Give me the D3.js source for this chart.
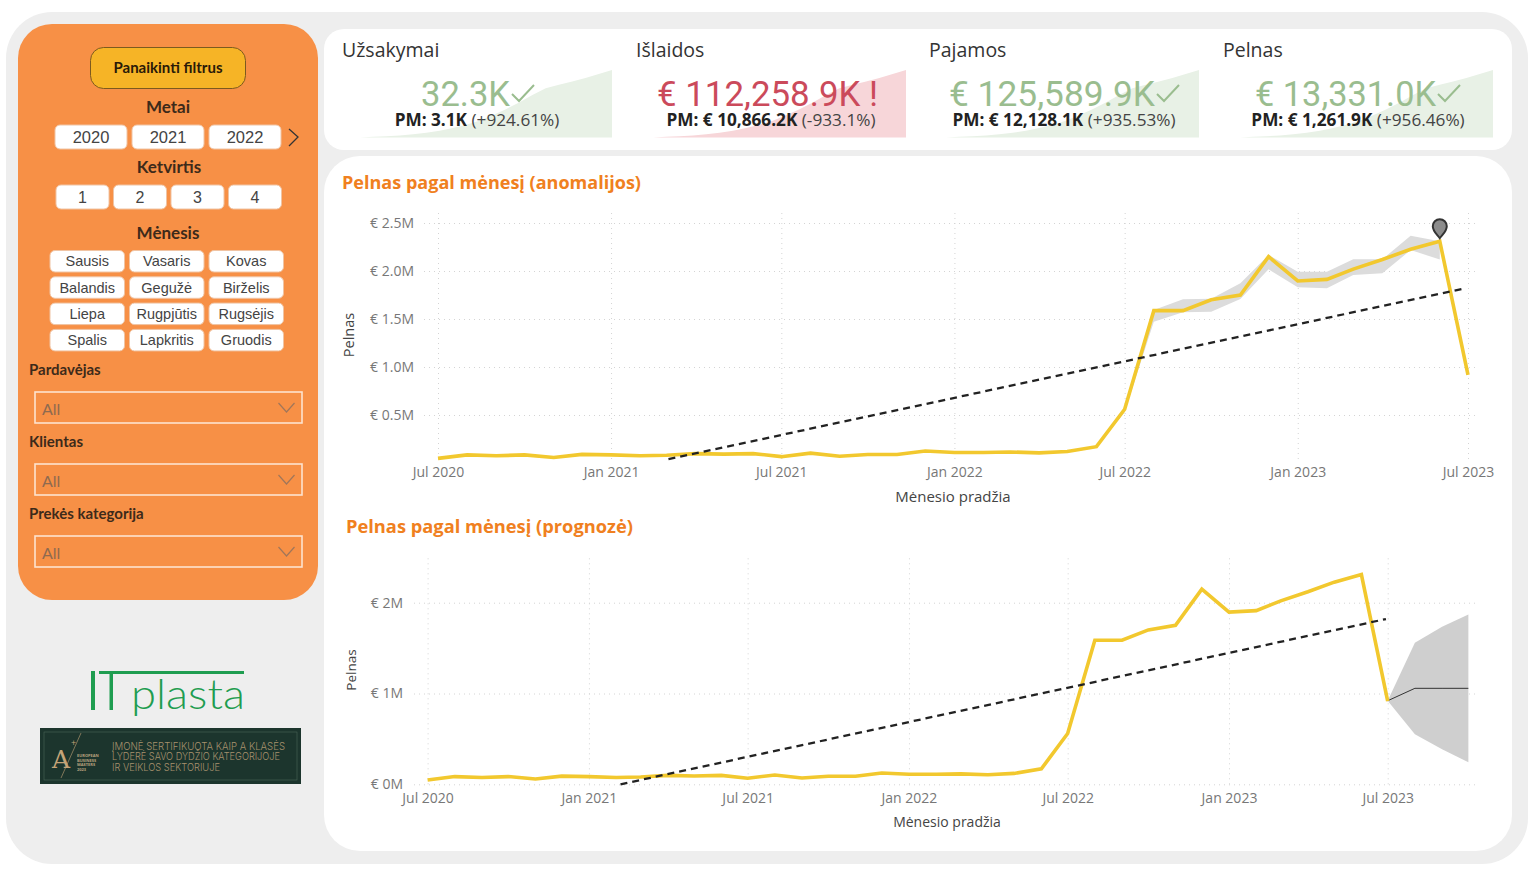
<!DOCTYPE html>
<html>
<head>
<meta charset="utf-8">
<script src="https://cdn.jsdelivr.net/npm/d3@7"></script>
<style>
  body { margin: 0; background: #fff; }
  text { font-family: "Open Sans", sans-serif; }
  .grid line { stroke: #d4d4d4; stroke-dasharray: 1 4; }
  .grid .domain { display: none; }
  .axis .domain, .axis line { display: none; }
  .axis text { font-family: "Open Sans", sans-serif; font-size: 14px; fill: #777; }
</style>
</head>
<body>
<div id="chart"></div>
<script>
// monthly profit, M EUR, Jul 2020 .. Jul 2023
const months = d3.timeMonths(new Date(2020, 6, 1), new Date(2023, 7, 1));
const profit = [
  0.048, 0.085, 0.075, 0.085, 0.058, 0.09, 0.085, 0.075, 0.08, 0.098, 0.092, 0.098,
  0.066, 0.103, 0.07, 0.088, 0.088, 0.125, 0.11, 0.11, 0.115, 0.105, 0.12, 0.17,
  0.56, 1.587, 1.587, 1.70, 1.75, 2.15, 1.896, 1.913, 2.02, 2.12, 2.226, 2.31, 0.917
];

// anomaly range, Jun 2022 .. Jun 2023
const bandMonths = d3.timeMonths(new Date(2022, 5, 1), new Date(2023, 6, 1));
const bandUpper = [0.185, 0.56, 1.594, 1.705, 1.712, 1.872, 2.167, 1.993, 1.993, 2.122, 2.122, 2.368, 2.31];
const bandLower = [0.155, 0.53, 1.472, 1.57, 1.576, 1.708, 2.017, 1.83, 1.82, 1.958, 1.976, 2.218, 2.12];
const anomalyMonth = new Date(2023, 5, 1);
const anomalyValue = 2.31;

const trendTop = [[new Date(2021, 2, 3), 0.04], [new Date(2023, 5, 28), 1.82]];
const trendBottom = [[new Date(2021, 1, 6), 0], [new Date(2023, 5, 29), 1.82]];

// forecast, Jul 2023 .. Oct 2023
const forecastMonths = d3.timeMonths(new Date(2023, 6, 1), new Date(2023, 10, 1));
const forecastMean = [0.92, 1.057, 1.057, 1.057];
const forecastUpper = [0.92, 1.56, 1.736, 1.87];
const forecastLower = [0.92, 0.55, 0.385, 0.242];

const xTicksTop = [[2020, 6], [2021, 0], [2021, 6], [2022, 0], [2022, 6], [2023, 0], [2023, 6]].map(d => new Date(d[0], d[1], 1));
const yTicksTop = [0.5, 1, 1.5, 2, 2.5];
const yTicksBottom = [0, 1, 2];

// kpi cards
const kpiTitles = ['Užsakymai', 'Išlaidos', 'Pajamos', 'Pelnas'];
const kpiValues = ['32.3K', '€ 112,258.9K !', '€ 125,589.9K', '€ 13,331.0K'];
const kpiPrev = ['PM: 3.1K', 'PM: € 10,866.2K', 'PM: € 12,128.1K', 'PM: € 1,261.9K'];
const kpiChange = ['(+924.61%)', '(-933.1%)', '(+935.53%)', '(+956.46%)'];
const kpiGood = [true, false, true, true];
const sparkValues = [0, 0.01, 0.02, 0.03, 0.05, 0.07, 0.1, 0.14, 0.19, 0.25, 0.33, 0.42, 0.52, 0.63, 0.73, 0.78, 0.83, 0.88, 0.94, 1];

// slicers
const years = ['2020', '2021', '2022'];
const quarters = ['1', '2', '3', '4'];
const monthNames = ['Sausis', 'Vasaris', 'Kovas', 'Balandis', 'Gegužė', 'Birželis', 'Liepa', 'Rugpjūtis', 'Rugsėjis', 'Spalis', 'Lapkritis', 'Gruodis'];
const dropdowns = ['Pardavėjas', 'Klientas', 'Prekės kategorija'];

const width = 1536, height = 876;
const yellow = '#f2c82e';
const orange = '#f08020';

const svg = d3.select('#chart').append('svg')
  .attr('width', width)
  .attr('height', height)
  .style('display', 'block');

function box(parent, x, y, w, h, r, fill) {
  return parent.append('rect')
    .attr('x', x).attr('y', y)
    .attr('width', w).attr('height', h)
    .attr('rx', r)
    .attr('fill', fill);
}

function label(parent, x, y, str, size, color, opts = {}) {
  const t = parent.append('text')
    .attr('x', x).attr('y', y)
    .attr('font-size', size)
    .attr('fill', color)
    .attr('text-anchor', opts.anchor || 'start')
    .attr('font-weight', opts.weight || 400)
    .text(str);
  if (opts.family) t.style('font-family', opts.family);
  if (opts.length) t.attr('textLength', opts.length).attr('lengthAdjust', 'spacingAndGlyphs');
  return t;
}

// backgrounds
box(svg, 6, 12, 1522, 852, 46, '#eeeeee');
box(svg, 18, 24, 300, 576, 34, '#f79046');
box(svg, 324, 29, 1188, 121, 20, '#ffffff');
box(svg, 324, 156, 1188, 695, 36, '#ffffff');

// ---- left panel ----
const panel = svg.append('g');
const sideFont = 'Lato, sans-serif';
const tileFont = '"Liberation Sans", sans-serif';
const headColor = '#3d2a1a';

box(panel, 90.5, 47.5, 155, 41, 13, '#f6b426').attr('stroke', '#7d5a1e').attr('stroke-width', 1);
label(panel, 168, 73, 'Panaikinti filtrus', 15, '#2a1a08', { anchor: 'middle', weight: 700, family: sideFont });

function tile(x, y, w, h, str, size) {
  box(panel, x, y, w, h, 5, '#ffffff').attr('stroke', '#f0c4a4').attr('stroke-width', 1);
  label(panel, x + w / 2, y + h / 2 + size * 0.35, str, size, '#444', { anchor: 'middle', family: tileFont });
}

label(panel, 168, 113, 'Metai', 17, headColor, { anchor: 'middle', weight: 700, family: sideFont });
years.forEach((d, i) => tile(55 + i * 77, 125, 72, 24, d, 16.5));
panel.append('path').attr('d', 'M289,129 L298,137 L289,146').attr('fill', 'none').attr('stroke', '#333').attr('stroke-width', 1.3);

label(panel, 169, 173, 'Ketvirtis', 17, headColor, { anchor: 'middle', weight: 700, family: sideFont });
quarters.forEach((d, i) => tile(56 + i * 57.5, 185, 53, 24, d, 16));

label(panel, 168, 239, 'Mėnesis', 17, headColor, { anchor: 'middle', weight: 700, family: sideFont });
monthNames.forEach((d, i) => {
  tile(50 + (i % 3) * 79.5, 250.5 + Math.floor(i / 3) * 26.3, 74.5, 21.5, d, 14.5);
});

dropdowns.forEach((d, i) => {
  const top = 392 + i * 72;
  label(panel, 29, top - 17, d, 15, headColor, { weight: 700, family: sideFont });
  panel.append('rect')
    .attr('x', 35).attr('y', top)
    .attr('width', 267).attr('height', 31)
    .attr('fill', 'none')
    .attr('stroke', '#fde3cf').attr('stroke-width', 1.6);
  label(panel, 42, top + 23, 'All', 16, '#8f6a50', { family: sideFont });
  panel.append('path')
    .attr('d', `M278.5,${top + 11} L286.5,${top + 20} L294.5,${top + 11}`)
    .attr('fill', 'none').attr('stroke', '#a0765a').attr('stroke-width', 1.2);
});

// logo
const logoGreen = '#1f9d50';
box(panel, 91, 671, 4, 39, 0, logoGreen);
box(panel, 99, 671, 145, 3, 0, logoGreen);
box(panel, 109.5, 671, 3.5, 39, 0, logoGreen);
label(panel, 131, 709, 'plasta', 41, logoGreen, { weight: 300, family: sideFont, length: 114 });

// certificate badge
box(panel, 40, 728, 261, 56, 0, '#1c352d');
panel.append('rect').attr('x', 44).attr('y', 732).attr('width', 253).attr('height', 48)
  .attr('fill', 'none').attr('stroke', '#4b6458').attr('stroke-width', 0.6);
label(panel, 52, 768, 'A', 25, '#c5a478', { weight: 300, family: '"DejaVu Serif", serif' });
label(panel, 71, 746, '+', 9, '#c5a478');
panel.append('line').attr('x1', 81).attr('y1', 733).attr('x2', 61).attr('y2', 778).attr('stroke', '#c5a478').attr('stroke-width', 0.6);
['EUROPEAN', 'BUSINESS', 'MASTERS', '2023'].forEach((d, i) => {
  label(panel, 77, 757 + i * 4.6, d, 4, '#b9a27e', { weight: 700 });
});
['ĮMONĖ SERTIFIKUOTA KAIP A KLASĖS', 'LYDERĖ SAVO DYDŽIO KATEGORIJOJE', 'IR VEIKLOS SEKTORIUJE'].forEach((d, i) => {
  label(panel, 112, 750 + i * 10.4, d, 10, '#a8926e', { family: 'Inter, sans-serif', weight: 300, length: [173, 168, 108][i] });
});

// ---- kpi cards ----
const kpiTitleX = [342, 636, 929, 1223];
const kpiSparkX = [[360, 612], [653, 906], [946, 1199], [1240, 1493]];
const kpiValueX = [[421, 89], [657, 221], [949, 206], [1255, 181]];
const kpiPrevMid = [477, 771, 1064, 1358];
const sparkY = d3.scaleLinear().domain([0, 1]).range([137.5, 70]);

kpiTitles.forEach((title, i) => {
  const g = svg.append('g');
  const sparkX = d3.scaleLinear().domain([0, sparkValues.length - 1]).range(kpiSparkX[i]);
  const area = d3.area()
    .x((d, j) => sparkX(j))
    .y0(sparkY(0))
    .y1(d => sparkY(d));
  g.append('path').datum(sparkValues)
    .attr('d', area)
    .attr('fill', kpiGood[i] ? '#e8f1e6' : '#f7d6d9');

  label(g, kpiTitleX[i], 57, title, 19.5, '#333');
  label(g, kpiValueX[i][0], 106, kpiValues[i], 35, kpiGood[i] ? '#9abd8f' : '#cb4a5b',
    { weight: 400, family: 'Roboto, sans-serif', length: kpiValueX[i][1] });
  if (kpiGood[i]) {
    const cx = kpiValueX[i][0] + kpiValueX[i][1] + 2;
    g.append('path')
      .attr('d', `M${cx},94 L${cx + 7},101 L${cx + 22},85`)
      .attr('fill', 'none').attr('stroke', '#9abd8f').attr('stroke-width', 2);
  }
  const t = label(g, kpiPrevMid[i], 126, null, 17.2, '#222', { anchor: 'middle' });
  t.append('tspan').attr('font-weight', 700).text(kpiPrev[i] + ' ');
  t.append('tspan').attr('fill', '#444').text(kpiChange[i]);
});

// ---- line charts ----
function drawChart(o) {
  const g = svg.append('g');

  g.append('g').attr('class', 'grid')
    .attr('transform', `translate(0,${o.gridBottom})`)
    .call(d3.axisBottom(o.x).tickValues(xTicksTop).tickSize(o.gridBottom - o.gridTop).tickSizeOuter(0).tickFormat(''))
    .selectAll('line').attr('y2', o.gridTop - o.gridBottom);

  g.append('g').attr('class', 'grid')
    .attr('transform', `translate(${o.gridLeft},0)`)
    .call(d3.axisRight(o.y).tickValues(o.yTicks).tickSize(o.gridRight - o.gridLeft).tickFormat(''));

  g.append('g').attr('class', 'axis')
    .attr('transform', `translate(0,${o.axisY})`)
    .call(d3.axisBottom(o.x).tickValues(xTicksTop).tickSize(0).tickPadding(0).tickFormat(d3.timeFormat('%b %Y')))
    .selectAll('text').attr('dy', '0.35em').attr('y', 0);

  g.append('g').attr('class', 'axis')
    .attr('transform', `translate(${o.yAxisX},0)`)
    .call(d3.axisLeft(o.y).tickValues(o.yTicks).tickSize(0).tickPadding(0).tickFormat(o.yFormat));

  const line = d3.line().x(d => o.x(d[0])).y(d => o.y(d[1]));
  const band = d3.area().x(d => o.x(d[0])).y0(d => o.y(d[1])).y1(d => o.y(d[2]));

  if (o.band) {
    g.append('path').datum(o.band).attr('d', band).attr('fill', '#dcdcdc');
  }
  if (o.forecast) {
    g.append('path').datum(o.forecast).attr('d', band).attr('fill', '#cfcfcf');
    g.append('path').datum(o.forecast.map(d => [d[0], d[3]]))
      .attr('d', line).attr('fill', 'none').attr('stroke', '#333').attr('stroke-width', 1);
  }

  g.append('path').datum(months.map((d, i) => [d, profit[i]]))
    .attr('d', line)
    .attr('fill', 'none')
    .attr('stroke', yellow)
    .attr('stroke-width', 3.6)
    .attr('stroke-linejoin', 'miter');

  g.append('path').datum(o.trend)
    .attr('d', line)
    .attr('fill', 'none')
    .attr('stroke', '#222')
    .attr('stroke-width', 2.3)
    .attr('stroke-dasharray', '7 5');

  if (o.marker) {
    g.append('path')
      .attr('transform', `translate(${o.x(o.marker[0])},${o.y(o.marker[1]) - 3})`)
      .attr('d', 'M0,0 C-3,-4 -7,-7 -7,-12 A7,7 0 1 1 7,-12 C7,-7 3,-4 0,0 Z')
      .attr('fill', '#8c8c8c')
      .attr('stroke', '#333')
      .attr('stroke-width', 2);
  }

  label(g, o.titleX, o.titleY, o.title, 18, orange, { weight: 700, length: o.titleLen, family: '"Open Sans", sans-serif' });
  label(g, o.xTitleX, o.xTitleY, 'Mėnesio pradžia', o.xTitleSize, '#444', { anchor: 'middle' });
  label(g, 0, 0, 'Pelnas', o.yTitleSize, '#444', { anchor: 'middle' })
    .attr('transform', `translate(${o.yTitleX},${o.yTitleY}) rotate(-90)`);
}

const xDomain = [months[0], months[months.length - 1]];

drawChart({
  x: d3.scaleTime().domain(xDomain).range([438, 1468]),
  y: d3.scaleLinear().domain([0, 2.5]).range([463, 223]),
  yTicks: yTicksTop,
  yFormat: d => `€ ${d.toFixed(1)}M`,
  gridTop: 212, gridBottom: 459, gridLeft: 424, gridRight: 1478,
  axisY: 472, yAxisX: 414,
  band: bandMonths.map((d, i) => [d, bandLower[i], bandUpper[i]]),
  trend: trendTop,
  marker: [anomalyMonth, anomalyValue],
  title: 'Pelnas pagal mėnesį (anomalijos)', titleX: 342, titleY: 189, titleLen: 299,
  xTitleX: 953, xTitleY: 502, xTitleSize: 15,
  yTitleX: 354, yTitleY: 335, yTitleSize: 14.5
});

drawChart({
  x: d3.scaleTime().domain(xDomain).range([427.6, 1387.7]),
  y: d3.scaleLinear().domain([0, 2]).range([784.3, 602.7]),
  yTicks: yTicksBottom,
  yFormat: d => `€ ${d}M`,
  gridTop: 556, gridBottom: 784.3, gridLeft: 414, gridRight: 1478,
  axisY: 798, yAxisX: 403,
  forecast: forecastMonths.map((d, i) => [d, forecastLower[i], forecastUpper[i], forecastMean[i]]),
  trend: trendBottom,
  title: 'Pelnas pagal mėnesį (prognozė)', titleX: 346, titleY: 533, titleLen: 287,
  xTitleX: 947, xTitleY: 827, xTitleSize: 14,
  yTitleX: 356, yTitleY: 670, yTitleSize: 13.5
});
</script>
</body>
</html>
